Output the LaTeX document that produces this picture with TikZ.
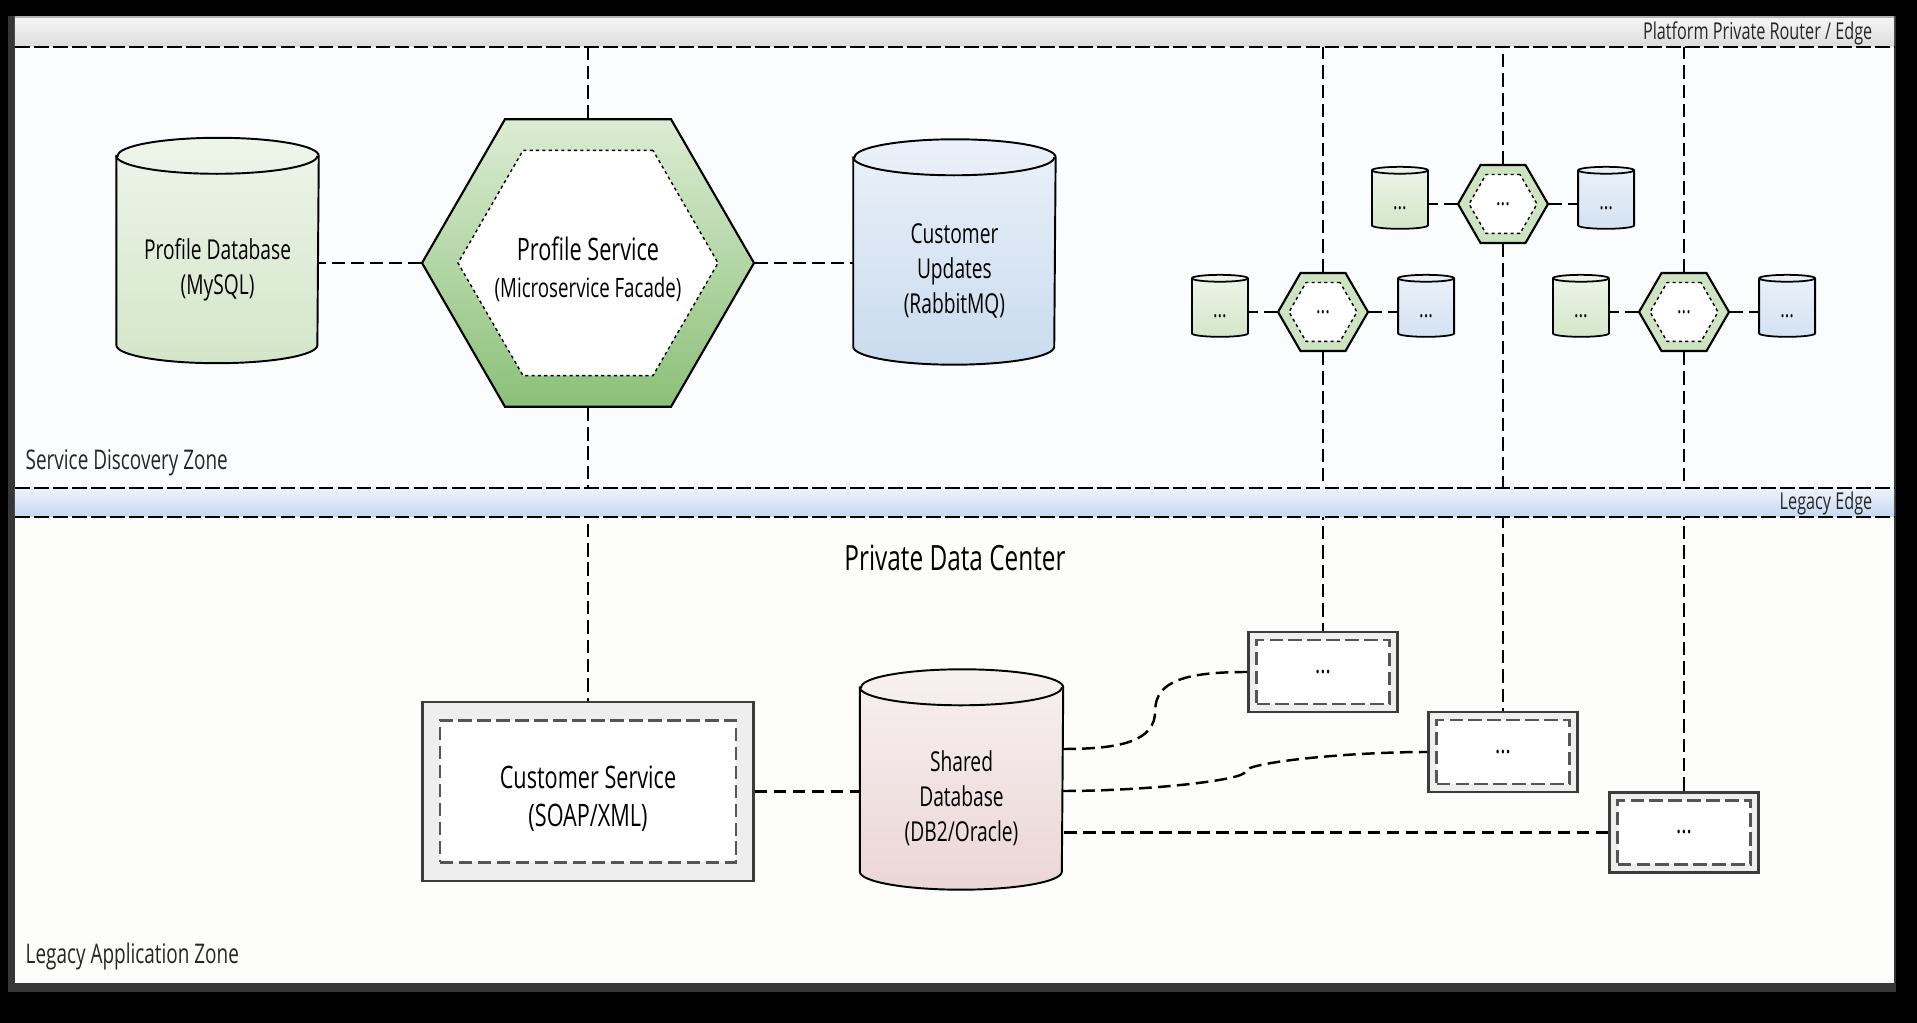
\documentclass[tikz,border=0pt]{standalone}
\usepackage{fontspec}
\setmainfont{Open Sans}[FakeStretch=0.7]
\usepackage{xcolor}
\usetikzlibrary{positioning,shapes.geometric,calc}
\definecolor{frameg}{HTML}{363636}
\definecolor{zoneA}{HTML}{FBFCFE}
\definecolor{zoneB}{HTML}{FDFDFB}
\definecolor{bandA}{HTML}{F6F6F6}
\definecolor{bandB}{HTML}{DCDCDC}
\definecolor{legA}{HTML}{EFF4FB}
\definecolor{legB}{HTML}{C5D7F2}
\definecolor{greenA}{HTML}{EEF5EA}
\definecolor{greenB}{HTML}{D3E6C9}
\definecolor{hexA}{HTML}{DCECD3}
\definecolor{hexB}{HTML}{8BC079}
\definecolor{hexS}{HTML}{CDE3C1}
\definecolor{blueA}{HTML}{EBF1F9}
\definecolor{blueB}{HTML}{C9DBEF}
\definecolor{pinkA}{HTML}{F8F0F0}
\definecolor{pinkB}{HTML}{EBD6D6}
\definecolor{boxfill}{HTML}{EEEEEE}
\definecolor{boxline}{HTML}{3C3C3C}
\definecolor{boxdash}{HTML}{555555}
\tikzset{
  zonetxt/.style={font=\fontsize{7.7}{9}\selectfont,text=black!85,inner sep=0pt},
  edgetxt/.style={font=\fontsize{6.6}{8}\selectfont,text=black!85,inner sep=0pt},
  edgeln/.style={line width=0.55pt,dash pattern=on 4.2pt off 1.2pt},
  dbcyl/.style n args={5}{rectangle,inner sep=0pt,minimum width=#1,minimum height=#2,
    append after command={\pgfextra{
      \draw[line width=0.55pt,top color=#4,bottom color=#5]
        ([yshift=-#3]\tikzlastnode.north west) -- ([yshift=#3]\tikzlastnode.south west)
        arc[start angle=180,end angle=360,x radius=#1/2,y radius=#3]
        -- ([yshift=-#3]\tikzlastnode.north east)
        arc[start angle=0,end angle=180,x radius=#1/2,y radius=#3] -- cycle;
      \draw[line width=0.55pt] ([yshift=-#3]\tikzlastnode.north west)
        arc[start angle=180,end angle=360,x radius=#1/2,y radius=#3];}}},
  gdb/.style={dbcyl={2.01cm}{2.24cm}{1.8mm}{greenA}{greenB}},
  bdb/.style={dbcyl={2.01cm}{2.24cm}{1.8mm}{blueA}{blueB}},
  rdb/.style={dbcyl={2.02cm}{2.19cm}{1.8mm}{pinkA}{pinkB}},
  dbtxt/.style={align=center,font=\fontsize{7.8}{9.9}\selectfont,yshift=-1.9mm},
  tdb/.style={cylinder,shape border rotate=90,draw,line width=0.5pt,aspect=0.5,inner sep=0pt,
    minimum width=0.56cm,minimum height=0.62cm,text height=2mm,font=\fontsize{7}{8}\selectfont},
  tgdb/.style={tdb,top color=greenA,bottom color=greenB},
  tbdb/.style={tdb,top color=blueA,bottom color=blueB!80},
  hexo/.style={regular polygon,regular polygon sides=6,draw,line width=0.6pt,inner sep=0pt},
  hexi/.style={regular polygon,regular polygon sides=6,draw,fill=white,line width=0.4pt,
    dash pattern=on 0.9pt off 0.9pt,inner sep=0pt,align=center},
  lbox/.style={draw=boxline,fill=boxfill,line width=0.75pt,inner sep=0pt},
  lboxin/.style={draw=boxdash,fill=white,line width=0.65pt,dash pattern=on 3.8pt off 1.6pt,
    inner sep=0pt,align=center},
  link/.style={line width=0.7pt,dash pattern=on 3.6pt off 1.8pt},
  vline/.style={line width=0.5pt,dash pattern=on 3.8pt off 1.7pt},
}

\begin{document}
\begin{tikzpicture}
  \useasboundingbox (0,0) rectangle (19.17,-10.23);
  \fill[black] (0,0) rectangle (19.17,-10.23);
  \fill[frameg] (0.08,-0.16) rectangle (18.96,-9.92);
  % zones
  \fill[zoneA] (0.15,-0.47) rectangle (18.94,-4.88);
  \fill[zoneB] (0.15,-5.17) rectangle (18.94,-9.83);
  \shade[top color=bandA,bottom color=bandB] (0.15,-0.17) rectangle (18.94,-0.47);
  \draw[gray!60,line width=0.4pt] (0.15,-0.17) -- (18.94,-0.17);
  \draw[edgeln] (0.15,-0.47) -- (18.94,-0.47);
  \coordinate (edge) at (0,-0.47);
  \node[edgetxt,anchor=base east] (ppr) at (18.73,-0.40) {Platform Private Router / Edge};
  \node[zonetxt,anchor=base west] (sdz) at (0.25,-4.70) {Service Discovery Zone};
  \node[zonetxt,anchor=base west] (laz) at (0.25,-9.64) {Legacy Application Zone};
  \node[font=\fontsize{9.9}{11}\selectfont,anchor=base] (pdc) at (9.55,-5.71) {Private Data Center};

  % profile service and its stores
  \node[hexo,minimum size=3.32cm,top color=hexA,bottom color=hexB] (ps) at (5.88,-2.63) {};
  \node[hexi,minimum size=2.6cm] (psi) at (ps) {};
  \node[align=center,font=\fontsize{8.8}{10.5}\selectfont,yshift=-0.6mm] (pst) at (ps)
        {Profile Service\\{\fontsize{7.6}{10.5}\selectfont(Microservice Facade)}};
  \node[gdb,left=1.02cm of ps,yshift=1.25mm] (pdb) {};
  \node[dbtxt] (pdbt) at (pdb) {Profile Database\\(MySQL)};
  \node[bdb,right=0.98cm of ps,yshift=1.1mm] (cu) {};
  \node[dbtxt] (cut) at (cu) {Customer\\Updates\\(RabbitMQ)};
  \draw[link] (ps.west) -- (ps.west -| pdb.east);
  \draw[link] (ps.east) -- (ps.east -| cu.west);

  % other services
  \node[hexo,minimum size=0.9cm,fill=hexS] (h1) at (13.23,-3.12) {};
  \node[hexi,minimum size=0.68cm,font=\fontsize{7}{8}\selectfont] (h1i) at (h1) {...};
  \node[tgdb,left=0.28cm of h1,yshift=0.4mm] (d1) {...};
  \node[tbdb,right=0.28cm of h1,yshift=0.4mm] (q1) {...};
  \node[hexo,minimum size=0.9cm,fill=hexS] (h2) at (15.03,-2.04) {};
  \node[hexi,minimum size=0.68cm,font=\fontsize{7}{8}\selectfont] (h2i) at (h2) {...};
  \node[tgdb,left=0.28cm of h2,yshift=0.4mm] (d2) {...};
  \node[tbdb,right=0.28cm of h2,yshift=0.4mm] (q2) {...};
  \node[hexo,minimum size=0.9cm,fill=hexS] (h3) at (16.84,-3.12) {};
  \node[hexi,minimum size=0.68cm,font=\fontsize{7}{8}\selectfont] (h3i) at (h3) {...};
  \node[tgdb,left=0.28cm of h3,yshift=0.4mm] (d3) {...};
  \node[tbdb,right=0.28cm of h3,yshift=0.4mm] (q3) {...};
  \draw[link] (h1.west) -- (h1.west -| d1.east);
  \draw[link] (h1.east) -- (h1.east -| q1.west);
  \draw[link] (h2.west) -- (h2.west -| d2.east);
  \draw[link] (h2.east) -- (h2.east -| q2.west);
  \draw[link] (h3.west) -- (h3.west -| d3.east);
  \draw[link] (h3.east) -- (h3.east -| q3.west);

  % legacy side
  \node[lbox,minimum width=3.31cm,minimum height=1.79cm] (cs) at (5.88,-7.915) {};
  \node[lboxin,minimum width=2.96cm,minimum height=1.42cm] (csi) at (cs) {};
  \node[align=center,font=\fontsize{8.8}{11}\selectfont,yshift=-0.7mm] (cst) at (cs)
        {Customer Service\\(SOAP/XML)};
  \node[rdb,right=1.05cm of cs,yshift=1.2mm] (sdb) {};
  \node[dbtxt] (sdbt) at (sdb) {Shared\\Database\\(DB2/Oracle)};
  \draw[link] (cs.east) -- (cs.east -| sdb.west);
  \node[lbox,minimum width=1.49cm,minimum height=0.8cm] (lb1) at (13.23,-6.72) {};
  \node[lboxin,minimum width=1.33cm,minimum height=0.64cm,font=\fontsize{8}{9}\selectfont] (lb1i) at (lb1) {...};
  \node[lbox,minimum width=1.49cm,minimum height=0.8cm] (lb2) at (15.03,-7.52) {};
  \node[lboxin,minimum width=1.33cm,minimum height=0.64cm,font=\fontsize{8}{9}\selectfont] (lb2i) at (lb2) {...};
  \node[lbox,minimum width=1.49cm,minimum height=0.8cm] (lb3) at (16.84,-8.325) {};
  \node[lboxin,minimum width=1.33cm,minimum height=0.64cm,font=\fontsize{8}{9}\selectfont] (lb3i) at (lb3) {...};
  \draw[link] ([yshift=3.05mm]sdb.east) .. controls +(0.6,0) and +(0,-0.3) ..
        ($([yshift=3.05mm]sdb.east)!.5!(lb1.west)$) .. controls +(0,0.3) and +(-0.6,0) .. (lb1.west);
  \draw[link] ([yshift=-1.15mm]sdb.east) .. controls +(0.8,0) and +(0,-0.09) ..
        ($([yshift=-1.15mm]sdb.east)!.5!(lb2.west)$) .. controls +(0,0.09) and +(-0.8,0) .. (lb2.west);
  \draw[link] (lb3.west) -- (lb3.west -| sdb.east);

  % routes through the edges
  \draw[vline] (ps.north) -- (ps.north |- edge);
  \draw[vline] (ps.south) -- (ps.south |- cs.north);
  \draw[vline] (h1.north) -- (h1.north |- edge);
  \draw[vline] (h1.south) -- (lb1.north);
  \draw[vline] (h2.north) -- (h2.north |- edge);
  \draw[vline] (h2.south) -- (lb2.north);
  \draw[vline] (h3.north) -- (h3.north |- edge);
  \draw[vline] (h3.south) -- (lb3.north);

  % legacy edge band
  \shade[top color=legA,bottom color=legB] (0.15,-4.88) rectangle (18.94,-5.17);
  \draw[edgeln] (0.15,-4.88) -- (18.94,-4.88);
  \draw[edgeln] (0.15,-5.17) -- (18.94,-5.17);
  \node[edgetxt,anchor=base east] (le) at (18.73,-5.10) {Legacy Edge};
\end{tikzpicture}
\end{document}
